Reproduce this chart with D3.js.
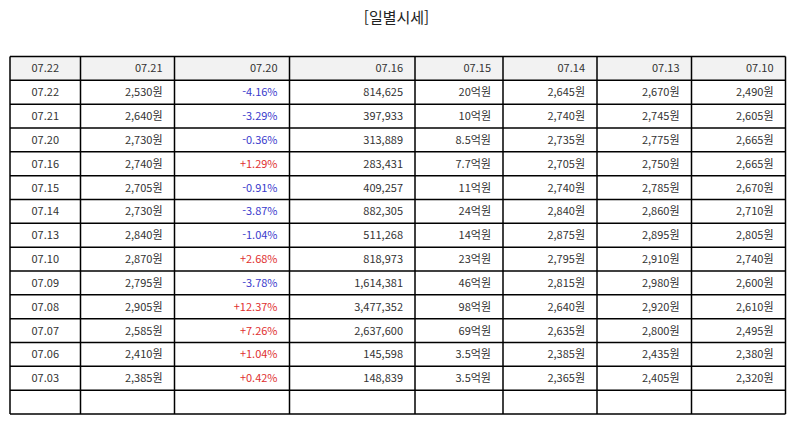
<!DOCTYPE html>
<html lang="ko">
<head>
<meta charset="UTF-8">
<title>[일별시세]</title>
<style>
  body, html { margin: 0; padding: 0; background: #fff; }
  svg { display: block; }
  .title { font: 15px "Noto Sans CJK KR", sans-serif; fill: #222; }
  .cell { font: 11px "Noto Sans CJK KR", sans-serif; }
</style>
</head>
<body>
<svg width="795" height="425"></svg>
<script src="https://d3js.org/d3.v7.min.js"></script>
<script>
// header labels (as shown in the reference)
const headers = ["07.22", "07.21", "07.20", "07.16", "07.15", "07.14", "07.13", "07.10"];

const dates   = ["07.22", "07.21", "07.20", "07.16", "07.15", "07.14", "07.13", "07.10", "07.09", "07.08", "07.07", "07.06", "07.03"];
const closes  = [2530, 2640, 2730, 2740, 2705, 2730, 2840, 2870, 2795, 2905, 2585, 2410, 2385];
const changes = [-4.16, -3.29, -0.36, 1.29, -0.91, -3.87, -1.04, 2.68, -3.78, 12.37, 7.26, 1.04, 0.42];
const volumes = [814625, 397933, 313889, 283431, 409257, 882305, 511268, 818973, 1614381, 3477352, 2637600, 145598, 148839];
const amounts = ["20", "10", "8.5", "7.7", "11", "24", "14", "23", "46", "98", "69", "3.5", "3.5"]; // 억원
const opens   = [2645, 2740, 2735, 2705, 2740, 2840, 2875, 2795, 2815, 2640, 2635, 2385, 2365];
const highs   = [2670, 2745, 2775, 2750, 2785, 2860, 2895, 2910, 2980, 2920, 2800, 2435, 2405];
const lows    = [2490, 2605, 2665, 2665, 2670, 2710, 2805, 2740, 2600, 2610, 2495, 2380, 2320];

const svg = d3.select("svg");
const width = 795;

svg.append("text")
    .attr("class", "title")
    .attr("x", width / 2 - 1)
    .attr("y", 23)
    .attr("text-anchor", "middle")
    .text("[일별시세]");

// column layout
const colWidths = [70.5, 94, 115, 125.5, 88, 94, 94.5, 94];
const left = 10;
const edges = [left, ...d3.cumsum(colWidths).map(d => left + d)];

const won = d => d3.format(",")(d) + "원";
const pct = d => (d > 0 ? "+" : "") + d.toFixed(2) + "%";

// build rows: header + data + one empty row
const rows = [];
rows.push({ header: true, cells: headers });
dates.forEach((d, i) => {
    rows.push({
        header: false,
        change: changes[i],
        cells: [d, won(closes[i]), pct(changes[i]), d3.format(",")(volumes[i]),
                amounts[i] + "억원", won(opens[i]), won(highs[i]), won(lows[i])]
    });
});
rows.push({ header: false, cells: ["", "", "", "", "", "", "", ""] });

const y = d3.scaleBand()
    .domain(d3.range(rows.length))
    .range([56.5, 414])
    .padding(0);

const rowG = svg.selectAll(".row")
    .data(rows)
    .enter().append("g")
    .attr("class", "row")
    .attr("transform", (d, i) => `translate(0, ${y(i)})`);

rowG.filter(d => d.header).append("rect")
    .attr("x", edges[0])
    .attr("width", edges[edges.length - 1] - edges[0])
    .attr("height", y.bandwidth())
    .attr("fill", "#f2f2f2");

rowG.selectAll("text")
    .data(d => d.cells.map((c, j) => ({ text: c, col: j, row: d })))
    .enter().append("text")
    .attr("class", "cell")
    .attr("x", d => d.col === 0 ? (edges[0] + edges[1]) / 2 : edges[d.col + 1] - 12)
    .attr("y", y.bandwidth() / 2)
    .attr("dy", "0.36em")
    .attr("text-anchor", d => d.col === 0 ? "middle" : "end")
    .style("fill", d => {
        if (d.col !== 2 || d.row.header || d.row.change === undefined) return "#333";
        return d.row.change < 0 ? "#3a3acc" : "#e03030";
    })
    .text(d => d.text);

// grid lines
const grid = svg.append("g")
    .attr("stroke", "#000")
    .attr("stroke-width", 1.5);

grid.selectAll(".h")
    .data(d3.range(rows.length + 1))
    .enter().append("line")
    .attr("x1", edges[0])
    .attr("x2", edges[edges.length - 1])
    .attr("y1", i => i < rows.length ? y(i) : y.range()[1])
    .attr("y2", i => i < rows.length ? y(i) : y.range()[1]);

grid.selectAll(".v")
    .data(edges)
    .enter().append("line")
    .attr("x1", d => d)
    .attr("x2", d => d)
    .attr("y1", y.range()[0])
    .attr("y2", y.range()[1]);
</script>
</body>
</html>
